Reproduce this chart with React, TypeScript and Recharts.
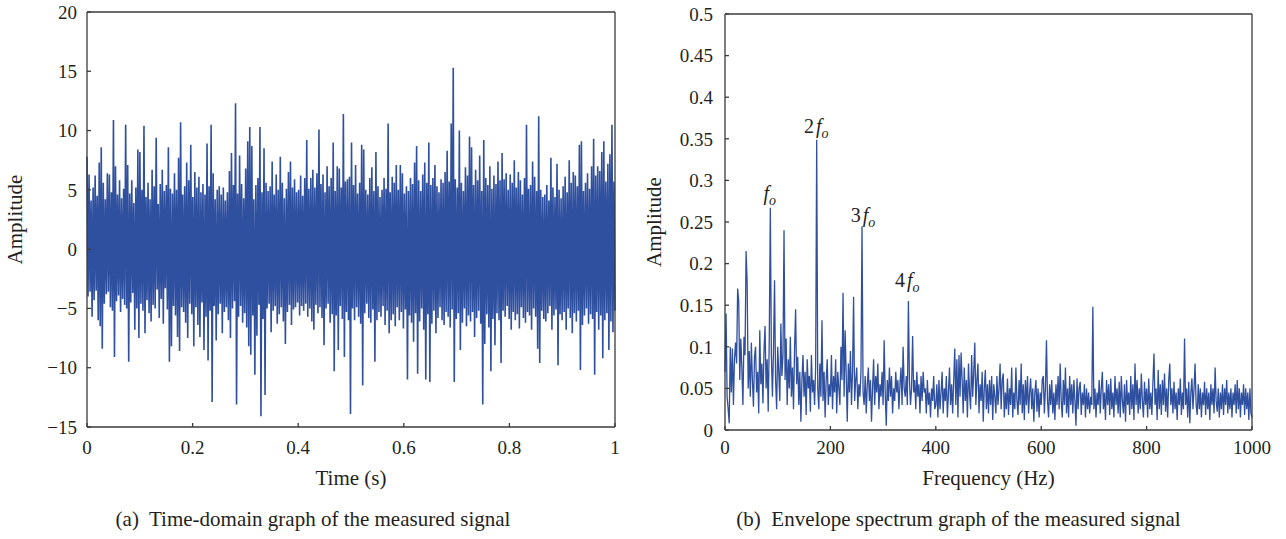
import React from "react";
import { LineChart, Line, XAxis, YAxis, ReferenceDot } from "recharts";

// (a) time-domain signal: upper and lower excursion of each sample pair, read left to right
const TIME_PEAKS = [
  7.8, 6.3, 4.1, 5.2, 6.2, 4.5, 7.3, 8.6, 5.6, 4.2,
  6.4, 6.3, 4.8, 10.9, 7.0, 4.6, 5.8, 4.3, 5.1, 10.5,
  7.1, 4.7, 5.8, 3.9, 5.2, 8.4, 8.2, 5.0, 10.4, 4.4,
  5.6, 4.2, 6.7, 5.3, 9.4, 3.8, 5.5, 6.7, 4.9, 5.4,
  8.6, 5.1, 4.7, 6.4, 5.0, 7.7, 10.7, 4.6, 5.3, 7.3,
  5.8, 8.8, 4.4, 6.5, 5.2, 6.1, 4.8, 5.5, 4.6, 8.9,
  5.3, 10.5, 6.4, 4.2, 5.0, 5.3, 4.6, 5.2, 4.1, 4.8,
  6.6, 8.1, 5.4, 12.3, 4.7, 7.9, 5.5, 4.3, 6.8, 9.1,
  10.3, 8.7, 4.2, 5.4, 6.0, 10.3, 4.8, 8.5, 5.6, 4.9,
  5.3, 7.4, 4.6, 6.3, 5.0, 7.8, 5.6, 4.3, 5.1, 6.5,
  7.4, 5.2, 5.9, 4.8, 5.0, 6.2, 4.5, 6.0, 9.2, 5.1,
  6.0, 6.7, 5.2, 6.4, 10.1, 5.5, 6.3, 4.8, 7.0, 5.3,
  6.0, 9.0, 4.9, 7.0, 6.8, 5.2, 11.4, 5.7, 5.9, 6.1,
  9.0, 5.4, 7.1, 4.7, 5.6, 8.8, 8.4, 5.0, 4.6, 6.0,
  6.9, 4.9, 8.2, 5.3, 4.4, 5.0, 6.0, 5.1, 10.6, 4.8,
  6.1, 5.6, 7.1, 5.0, 7.1, 6.4, 4.7, 5.3, 4.9, 6.0,
  5.5, 7.3, 8.7, 5.8, 4.9, 6.3, 7.3, 5.6, 9.0, 5.4,
  6.0, 7.1, 5.3, 4.8, 5.9, 5.6, 6.5, 8.3, 5.7, 10.6,
  15.3, 5.9, 5.2, 10.0, 5.6, 4.9, 6.9, 6.2, 9.5, 8.6,
  5.4, 6.7, 5.8, 7.9, 4.9, 9.2, 6.0, 5.4, 7.0, 5.1,
  6.2, 5.5, 7.4, 5.8, 8.1, 5.9, 6.4, 5.0, 6.3, 5.6,
  7.5, 5.2, 6.5, 5.8, 4.6, 6.0, 10.5, 5.1, 5.4, 7.4,
  6.1, 4.9, 11.2, 5.0, 4.4, 4.6, 5.4, 4.1, 7.7, 5.2,
  4.4, 7.2, 5.0, 4.3, 5.3, 6.1, 4.8, 7.5, 5.6, 6.5,
  6.2, 5.3, 8.8, 9.1, 4.9, 5.6, 6.4, 5.1, 7.0, 9.3,
  6.2, 7.0, 6.6, 8.2, 9.1, 5.7, 7.2, 8.0, 10.5, 5.7,
];
const TIME_TROUGHS = [
  -4.0, -3.6, -5.7, -4.3, -3.5, -6.0, -6.5, -8.4, -4.6, -3.8,
  -3.6, -4.9, -5.2, -9.1, -4.4, -3.9, -5.3, -4.2, -4.7, -5.0,
  -9.5, -4.5, -3.7, -6.8, -5.0, -7.5, -4.6, -5.2, -7.1, -4.3,
  -5.4, -6.1, -4.7, -5.0, -3.4, -5.8, -4.2, -6.3, -3.3, -5.1,
  -9.5, -8.2, -4.8, -5.6, -7.4, -8.6, -4.9, -5.3, -6.2, -7.5,
  -4.6, -5.5, -8.2, -4.9, -6.4, -7.4, -4.5, -8.5, -5.7, -9.4,
  -5.2, -12.9, -4.8, -7.7, -5.5, -4.6, -7.1, -5.3, -4.9, -6.0,
  -7.5, -5.0, -4.4, -13.1, -5.7, -4.8, -6.2, -5.4, -6.6, -8.2,
  -8.9, -5.6, -10.6, -7.3, -4.7, -14.1, -5.9, -12.3, -5.0, -4.6,
  -7.0, -5.2, -4.8, -6.3, -5.5, -4.9, -6.1, -8.0, -5.3, -4.7,
  -6.4, -5.1, -4.9, -4.5, -5.6, -4.8, -5.2, -4.6, -5.7, -5.0,
  -6.1, -6.8, -4.7, -5.4, -4.9, -5.8, -8.1, -5.0, -4.6, -6.2,
  -5.5, -10.3, -5.6, -8.5, -4.8, -5.9, -9.1, -5.3, -6.0, -13.9,
  -5.0, -6.0, -4.9, -5.7, -6.3, -11.5, -5.4, -4.6, -5.8, -6.2,
  -5.1, -9.5, -6.0, -5.3, -5.7, -4.8, -6.4, -5.2, -7.1, -6.0,
  -5.5, -6.5, -4.9, -6.0, -5.3, -6.7, -5.1, -11.0, -5.6, -6.2,
  -7.8, -5.4, -10.5, -6.1, -5.0, -6.8, -11.0, -5.5, -11.2, -6.3,
  -5.2, -7.1, -5.8, -4.9, -6.0, -6.4, -5.3, -5.7, -6.6, -5.1,
  -11.2, -5.9, -5.4, -8.5, -6.2, -5.0, -6.5, -5.6, -6.1, -5.3,
  -7.4, -5.8, -5.2, -6.3, -13.1, -8.0, -5.5, -6.6, -10.3, -5.9,
  -8.1, -5.4, -6.0, -9.6, -5.2, -5.7, -4.8, -5.9, -6.8, -5.3,
  -6.0, -5.5, -6.7, -4.9, -5.8, -6.2, -5.3, -5.6, -6.8, -5.0,
  -5.7, -8.4, -9.6, -5.2, -5.9, -6.1, -5.4, -4.8, -6.8, -5.6,
  -5.1, -9.8, -5.5, -6.0, -5.3, -6.8, -5.0, -5.8, -7.1, -5.4,
  -6.1, -5.2, -10.2, -6.4, -5.6, -5.0, -6.3, -5.5, -5.9, -10.6,
  -5.3, -6.8, -5.6, -9.2, -6.0, -5.4, -8.5, -6.1, -7.0, -5.2,
];
const TIME_TICKS = [0, 0.2, 0.4, 0.6, 0.8, 1];
const AMP_TICKS = [-15, -10, -5, 0, 5, 10, 15, 20];

// (b) envelope spectrum, one value every 2 Hz from 0 to 1000 Hz (25 values = 50 Hz per row)
const FREQ_STEP = 2;
const SPECTRUM = [
  0.070, 0.140, 0.040, 0.025, 0.008, 0.100, 0.045, 0.098, 0.030, 0.085, 0.105, 0.080, 0.170, 0.155, 0.060, 0.110, 0.075, 0.030, 0.112, 0.090, 0.215, 0.178, 0.050, 0.095, 0.040,
  0.105, 0.060, 0.028, 0.088, 0.100, 0.045, 0.070, 0.020, 0.120, 0.055, 0.080, 0.032, 0.095, 0.125, 0.050, 0.085, 0.022, 0.110, 0.267, 0.090, 0.040, 0.095, 0.180, 0.060, 0.025,
  0.100, 0.070, 0.035, 0.128, 0.065, 0.090, 0.240, 0.060, 0.110, 0.030, 0.085, 0.050, 0.112, 0.040, 0.075, 0.025, 0.098, 0.145, 0.055, 0.088, 0.030, 0.070, 0.010, 0.060, 0.090,
  0.040, 0.070, 0.018, 0.085, 0.050, 0.065, 0.022, 0.090, 0.045, 0.060, 0.030, 0.075, 0.349, 0.050, 0.025, 0.080, 0.040, 0.132, 0.035, 0.070, 0.015, 0.060, 0.085, 0.030, 0.055,
  0.040, 0.090, 0.025, 0.065, 0.045, 0.085, 0.020, 0.070, 0.050, 0.030, 0.100, 0.060, 0.165, 0.040, 0.120, 0.065, 0.010, 0.080, 0.045, 0.095, 0.030, 0.070, 0.160, 0.035, 0.060,
  0.075, 0.025, 0.055, 0.040, 0.070, 0.245, 0.045, 0.030, 0.065, 0.020, 0.055, 0.075, 0.035, 0.060, 0.010, 0.050, 0.085, 0.030, 0.065, 0.045, 0.080, 0.025, 0.055, 0.040, 0.070,
  0.030, 0.108, 0.045, 0.005, 0.060, 0.035, 0.075, 0.040, 0.065, 0.020, 0.050, 0.035, 0.070, 0.045, 0.060, 0.025, 0.055, 0.075, 0.030, 0.100, 0.050, 0.040, 0.065, 0.030, 0.155,
  0.060, 0.030, 0.050, 0.113, 0.045, 0.060, 0.025, 0.070, 0.040, 0.055, 0.020, 0.065, 0.035, 0.070, 0.045, 0.050, 0.020, 0.060, 0.030, 0.045, 0.015, 0.050, 0.035, 0.065, 0.025,
  0.030, 0.055, 0.015, 0.060, 0.025, 0.045, 0.070, 0.020, 0.050, 0.035, 0.065, 0.015, 0.045, 0.075, 0.030, 0.055, 0.020, 0.060, 0.098, 0.030, 0.085, 0.015, 0.090, 0.040, 0.093,
  0.060, 0.020, 0.075, 0.035, 0.060, 0.015, 0.080, 0.045, 0.025, 0.090, 0.040, 0.070, 0.105, 0.030, 0.060, 0.080, 0.020, 0.055, 0.035, 0.070, 0.010, 0.050, 0.072, 0.025, 0.055,
  0.020, 0.060, 0.030, 0.065, 0.012, 0.055, 0.040, 0.020, 0.065, 0.030, 0.050, 0.080, 0.025, 0.060, 0.068, 0.015, 0.045, 0.025, 0.062, 0.018, 0.050, 0.030, 0.075, 0.015, 0.045,
  0.025, 0.075, 0.035, 0.018, 0.060, 0.030, 0.080, 0.020, 0.055, 0.012, 0.060, 0.030, 0.065, 0.020, 0.045, 0.062, 0.025, 0.050, 0.010, 0.045, 0.060, 0.022, 0.050, 0.015, 0.045,
  0.030, 0.060, 0.065, 0.020, 0.050, 0.108, 0.035, 0.015, 0.055, 0.030, 0.060, 0.020, 0.045, 0.012, 0.055, 0.030, 0.065, 0.025, 0.080, 0.035, 0.015, 0.060, 0.030, 0.075, 0.020,
  0.050, 0.015, 0.065, 0.030, 0.055, 0.020, 0.060, 0.035, 0.005, 0.062, 0.025, 0.050, 0.058, 0.018, 0.045, 0.030, 0.055, 0.015, 0.050, 0.025, 0.045, 0.020, 0.040, 0.030, 0.148,
  0.025, 0.050, 0.015, 0.045, 0.030, 0.060, 0.020, 0.050, 0.070, 0.025, 0.045, 0.012, 0.060, 0.030, 0.055, 0.018, 0.062, 0.025, 0.045, 0.015, 0.065, 0.030, 0.050, 0.020, 0.058,
  0.015, 0.065, 0.035, 0.020, 0.055, 0.010, 0.060, 0.030, 0.045, 0.018, 0.065, 0.025, 0.055, 0.012, 0.080, 0.030, 0.060, 0.020, 0.050, 0.025, 0.068, 0.035, 0.015, 0.058, 0.030,
  0.050, 0.015, 0.062, 0.025, 0.045, 0.018, 0.058, 0.092, 0.030, 0.050, 0.012, 0.072, 0.025, 0.055, 0.018, 0.060, 0.030, 0.068, 0.022, 0.050, 0.015, 0.060, 0.080, 0.030, 0.050,
  0.020, 0.058, 0.025, 0.045, 0.012, 0.050, 0.030, 0.062, 0.018, 0.045, 0.025, 0.110, 0.030, 0.050, 0.015, 0.058, 0.008, 0.045, 0.062, 0.025, 0.050, 0.080, 0.030, 0.018, 0.055,
  0.025, 0.050, 0.015, 0.045, 0.030, 0.058, 0.018, 0.050, 0.025, 0.045, 0.012, 0.055, 0.030, 0.050, 0.020, 0.075, 0.035, 0.022, 0.050, 0.015, 0.045, 0.025, 0.055, 0.018, 0.050,
  0.030, 0.060, 0.020, 0.045, 0.025, 0.050, 0.015, 0.045, 0.030, 0.055, 0.020, 0.060, 0.025, 0.050, 0.015, 0.045, 0.030, 0.055, 0.018, 0.050, 0.025, 0.045, 0.012, 0.050, 0.020,
  0.015,
];
const FREQ_TICKS = [0, 200, 400, 600, 800, 1000];
const ENV_TICKS = [0, 0.05, 0.1, 0.15, 0.2, 0.25, 0.3, 0.35, 0.4, 0.45, 0.5];

// harmonic labels: multiplier, label anchor (Hz, amplitude)
const HARMONIC_MULT = ["", "2", "3", "4"];
const HARMONIC_FREQ = [85, 173, 262, 346];
const HARMONIC_AMP = [0.276, 0.357, 0.25, 0.172];

const SERIF = '"Liberation Serif", "Times New Roman", serif';
const INK = "#231f20";
const BLUE = "#2f4f9f";
const FRAME = "#3a3a3a";

const timeValues = TIME_PEAKS.flatMap((p, k) => [p, TIME_TROUGHS[k]]);
const timeData = timeValues.map((v, i) => ({ t: i / (timeValues.length - 1), v }));
const spectrumData = SPECTRUM.map((a, i) => ({ f: i * FREQ_STEP, a }));

const minus = (v: number) => String(v).replace("-", "\u2212");
const tickStyle = { fill: INK, fontSize: 19, fontFamily: SERIF };
const frameLine = { stroke: FRAME, strokeWidth: 1.3 };
const tickMark = { stroke: FRAME, strokeWidth: 1.3 };

function HarmonicLabel({ cx, cy, mult }: { cx: number; cy: number; mult: string }) {
  return (
    <text x={cx} y={cy} textAnchor="middle" fontFamily={SERIF} fontSize={20} fill={INK}>
      {mult ? <tspan>{mult}</tspan> : null}
      <tspan fontStyle="italic" dx={mult ? 2 : 0}>f</tspan>
      <tspan fontStyle="italic" fontSize={14} dy={5}>o</tspan>
    </text>
  );
}

export default function App() {
  return (
    <div style={{ position: "absolute", left: 0, top: 0, width: 1286, height: 539, background: "#fff" }}>
      <div style={{ position: "absolute", left: 0, top: 0 }}>
        <LineChart width={640} height={539} data={timeData} margin={{ top: 11, right: 24, bottom: 111, left: 86 }}>
          <XAxis xAxisId="b" dataKey="t" type="number" domain={[0, 1]} ticks={TIME_TICKS} interval={0}
            height={1} tickSize={-4} tickMargin={18} tick={tickStyle}
            axisLine={frameLine} tickLine={tickMark} />
          <XAxis xAxisId="t" orientation="top" dataKey="t" type="number" domain={[0, 1]} ticks={TIME_TICKS} interval={0}
            height={1} tickSize={-4} tick={false}
            axisLine={frameLine} tickLine={tickMark} />
          <YAxis yAxisId="l" type="number" domain={[-15, 20]} allowDataOverflow ticks={AMP_TICKS} interval={0}
            width={1} tickSize={-4} tickMargin={14} tick={tickStyle} tickFormatter={minus}
            axisLine={frameLine} tickLine={tickMark} />
          <YAxis yAxisId="r" orientation="right" type="number" domain={[-15, 20]} allowDataOverflow ticks={AMP_TICKS} interval={0}
            width={1} tickSize={-4} tick={false}
            axisLine={frameLine} tickLine={tickMark} />
          <Line xAxisId="b" yAxisId="l" type="linear" dataKey="v" stroke={BLUE} strokeWidth={1.6}
            dot={false} isAnimationActive={false} />
        </LineChart>
      </div>
      <div style={{ position: "absolute", left: 640, top: 0 }}>
        <LineChart width={646} height={539} data={spectrumData} margin={{ top: 13, right: 33, bottom: 108, left: 84 }}>
          <XAxis xAxisId="b" dataKey="f" type="number" domain={[0, 1000]} ticks={FREQ_TICKS} interval={0}
            height={1} tickSize={-4} tickMargin={15} tick={tickStyle}
            axisLine={frameLine} tickLine={tickMark} />
          <XAxis xAxisId="t" orientation="top" dataKey="f" type="number" domain={[0, 1000]} ticks={FREQ_TICKS} interval={0}
            height={1} tickSize={-4} tick={false}
            axisLine={frameLine} tickLine={tickMark} />
          <YAxis yAxisId="l" type="number" domain={[0, 0.5]} allowDataOverflow ticks={ENV_TICKS} interval={0}
            width={1} tickSize={-4} tickMargin={16} tick={tickStyle}
            axisLine={frameLine} tickLine={tickMark} />
          <YAxis yAxisId="r" orientation="right" type="number" domain={[0, 0.5]} allowDataOverflow ticks={ENV_TICKS} interval={0}
            width={1} tickSize={-4} tick={false}
            axisLine={frameLine} tickLine={tickMark} />
          <Line xAxisId="b" yAxisId="l" type="linear" dataKey="a" stroke={BLUE} strokeWidth={1.3}
            dot={false} isAnimationActive={false} />
          {HARMONIC_MULT.map((m, i) => (
            <ReferenceDot key={i} xAxisId="b" yAxisId="l" x={HARMONIC_FREQ[i]} y={HARMONIC_AMP[i]} r={0}
              ifOverflow="visible"
              shape={(p: any) => <HarmonicLabel cx={p.cx} cy={p.cy} mult={m} />} />
          ))}
        </LineChart>
      </div>
      <svg width={1286} height={539} style={{ position: "absolute", left: 0, top: 0, pointerEvents: "none" }}>
        <g fontFamily={SERIF} fill={INK} fontSize={21}>
          <text x={22} y={219.5} textAnchor="middle" transform="rotate(-90 22 219.5)">Amplitude</text>
          <text x={661} y={222} textAnchor="middle" transform="rotate(-90 661 222)">Amplitude</text>
          <text x={351} y={485} textAnchor="middle">Time (s)</text>
          <text x={988.5} y={485} textAnchor="middle">Frequency (Hz)</text>
          <text x={313} y={526} textAnchor="middle" style={{ whiteSpace: "pre" }}>(a)  Time-domain graph of the measured signal</text>
          <text x={958.5} y={526} textAnchor="middle" style={{ whiteSpace: "pre" }}>(b)  Envelope spectrum graph of the measured signal</text>
        </g>
      </svg>
    </div>
  );
}
